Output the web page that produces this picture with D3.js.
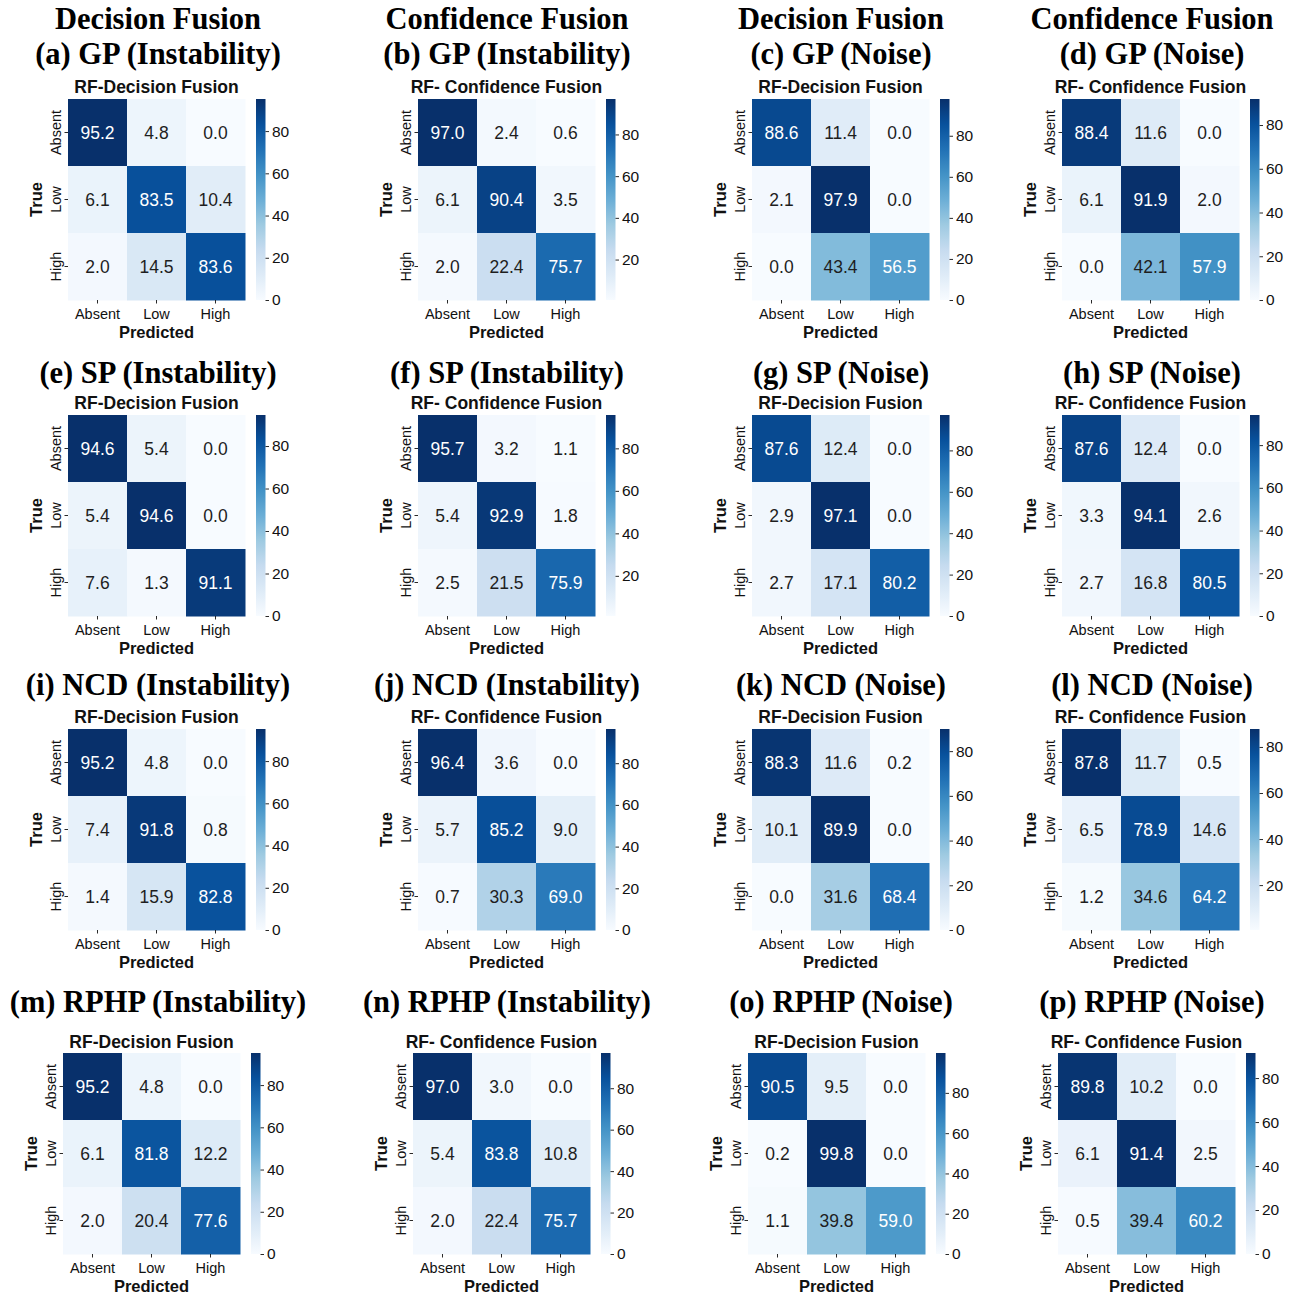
<!DOCTYPE html>
<html>
<head>
<meta charset="utf-8">
<script src="https://cdn.jsdelivr.net/npm/d3@7/dist/d3.min.js"></script>
<style>
  body { margin: 0; background: #fff; }
  svg { display: block; }
</style>
</head>
<body>
<svg id="fig" width="1293" height="1298"></svg>
<script>
// Class labels shared by every confusion matrix (rows = true, columns = predicted)
const classes = ["Absent", "Low", "High"];

// Row-normalised confusion matrices (%), one per panel
const cm_a = [[95.2, 4.8, 0.0], [6.1, 83.5, 10.4], [2.0, 14.5, 83.6]];
const cm_b = [[97.0, 2.4, 0.6], [6.1, 90.4, 3.5], [2.0, 22.4, 75.7]];
const cm_c = [[88.6, 11.4, 0.0], [2.1, 97.9, 0.0], [0.0, 43.4, 56.5]];
const cm_d = [[88.4, 11.6, 0.0], [6.1, 91.9, 2.0], [0.0, 42.1, 57.9]];
const cm_e = [[94.6, 5.4, 0.0], [5.4, 94.6, 0.0], [7.6, 1.3, 91.1]];
const cm_f = [[95.7, 3.2, 1.1], [5.4, 92.9, 1.8], [2.5, 21.5, 75.9]];
const cm_g = [[87.6, 12.4, 0.0], [2.9, 97.1, 0.0], [2.7, 17.1, 80.2]];
const cm_h = [[87.6, 12.4, 0.0], [3.3, 94.1, 2.6], [2.7, 16.8, 80.5]];
const cm_i = [[95.2, 4.8, 0.0], [7.4, 91.8, 0.8], [1.4, 15.9, 82.8]];
const cm_j = [[96.4, 3.6, 0.0], [5.7, 85.2, 9.0], [0.7, 30.3, 69.0]];
const cm_k = [[88.3, 11.6, 0.2], [10.1, 89.9, 0.0], [0.0, 31.6, 68.4]];
const cm_l = [[87.8, 11.7, 0.5], [6.5, 78.9, 14.6], [1.2, 34.6, 64.2]];
const cm_m = [[95.2, 4.8, 0.0], [6.1, 81.8, 12.2], [2.0, 20.4, 77.6]];
const cm_n = [[97.0, 3.0, 0.0], [5.4, 83.8, 10.8], [2.0, 22.4, 75.7]];
const cm_o = [[90.5, 9.5, 0.0], [0.2, 99.8, 0.0], [1.1, 39.8, 59.0]];
const cm_p = [[89.8, 10.2, 0.0], [6.1, 91.4, 2.5], [0.5, 39.4, 60.2]];

const matrices = [cm_a, cm_b, cm_c, cm_d, cm_e, cm_f, cm_g, cm_h,
                  cm_i, cm_j, cm_k, cm_l, cm_m, cm_n, cm_o, cm_p];

// Panel headings
const columnHeads = ["Decision Fusion", "Confidence Fusion", "Decision Fusion", "Confidence Fusion"];
const panelTitles = [
  "(a) GP (Instability)", "(b) GP (Instability)", "(c) GP (Noise)", "(d) GP (Noise)",
  "(e) SP (Instability)", "(f) SP (Instability)", "(g) SP (Noise)", "(h) SP (Noise)",
  "(i) NCD (Instability)", "(j) NCD (Instability)", "(k) NCD (Noise)", "(l) NCD (Noise)",
  "(m) RPHP (Instability)", "(n) RPHP (Instability)", "(o) RPHP (Noise)", "(p) RPHP (Noise)"
];
const subtitles = ["RF-Decision Fusion", "RF- Confidence Fusion", "RF-Decision Fusion", "RF- Confidence Fusion"];
const cbarTickValues = [0, 20, 40, 60, 80, 100];

// ---------- layout ----------
const colLeft = [[68, 418, 752, 1062], [68, 418, 752, 1062], [68, 418, 752, 1062], [63, 413, 748, 1058]];
const rowTop = [99, 415, 729, 1053];
const titleBase = [64, 383, 695, 1012];
const titleCx = [158, 507, 841, 1152];
const mapW = 177, mapH = 201;
const cbGap = 11, cbW = 9.5;

const serif = "'Liberation Serif', 'Times New Roman', serif";
const sans = "'Liberation Sans', Arial, Helvetica, sans-serif";
const inkColor = "#111";

// Matplotlib-style "Blues": piecewise linear through the ColorBrewer stops
const bluesStops = ["#f7fbff", "#deebf7", "#c6dbef", "#9ecae1", "#6baed6", "#4292c6", "#2171b5", "#08519c", "#08306b"];
const blues = d3.scaleLinear()
  .domain(d3.range(9).map(i => i / 8))
  .range(bluesStops)
  .interpolate(d3.interpolateRgb)
  .clamp(true);

function luminance(c) {
  const rgb = d3.rgb(c);
  const lin = v => { v /= 255; return v <= 0.03928 ? v / 12.92 : Math.pow((v + 0.055) / 1.055, 2.4); };
  return 0.2126 * lin(rgb.r) + 0.7152 * lin(rgb.g) + 0.0722 * lin(rgb.b);
}

const svg = d3.select("#fig");
svg.append("rect").attr("width", 1293).attr("height", 1298).attr("fill", "#fff");
const defs = svg.append("defs");

matrices.forEach((m, idx) => {
  const r = Math.floor(idx / 4), c = idx % 4;
  const x0 = colLeft[r][c], y0 = rowTop[r];
  const flat = m.flat();
  const vmin = d3.min(flat), vmax = d3.max(flat);
  const norm = d3.scaleLinear().domain([vmin, vmax]).range([0, 1]);
  const color = v => blues(norm(v));

  const g = svg.append("g").attr("transform", `translate(${x0},${y0})`);

  // headings
  if (r === 0) {
    svg.append("text")
      .attr("x", titleCx[c]).attr("y", 29)
      .attr("text-anchor", "middle")
      .style("font-family", serif).style("font-weight", "bold").style("font-size", "30.5px")
      .attr("fill", "#000").text(columnHeads[c]);
  }
  svg.append("text")
    .attr("x", titleCx[c]).attr("y", titleBase[r])
    .attr("text-anchor", "middle")
    .style("font-family", serif).style("font-weight", "bold").style("font-size", "30.5px")
    .attr("fill", "#000").text(panelTitles[idx]);

  g.append("text")
    .attr("x", mapW / 2).attr("y", r === 3 ? -5 : -6)
    .attr("text-anchor", "middle")
    .style("font-family", sans).style("font-weight", "bold").style("font-size", "17.5px")
    .attr("fill", inkColor).text(subtitles[c]);

  const xs = d3.scaleBand().domain(classes).range([0, mapW]);
  const ys = d3.scaleBand().domain(classes).range([0, mapH]);

  // cells
  const cells = [];
  m.forEach((row, i) => row.forEach((v, j) => cells.push({ t: classes[i], p: classes[j], v })));

  g.selectAll("rect.cell").data(cells).join("rect")
    .attr("class", "cell")
    .attr("x", d => xs(d.p)).attr("y", d => ys(d.t))
    .attr("width", xs.bandwidth() + 0.5).attr("height", ys.bandwidth() + 0.5)
    .attr("fill", d => color(d.v));

  g.selectAll("text.val").data(cells).join("text")
    .attr("class", "val")
    .attr("transform", d => `translate(${xs(d.p) + xs.bandwidth() / 2},${ys(d.t) + ys.bandwidth() / 2}) scale(1,1.08)`)
    .attr("text-anchor", "middle").attr("dominant-baseline", "central")
    .style("font-family", sans).style("font-size", "17.5px")
    .attr("fill", d => luminance(color(d.v)) > 0.408 ? "#1e1e1e" : "#ffffff")
    .text(d => d.v.toFixed(1));

  // axes
  const xAxis = d3.axisBottom(xs).tickSize(3.5).tickPadding(5);
  const gx = g.append("g").attr("transform", `translate(0,${mapH})`).call(xAxis);
  gx.select(".domain").remove();
  gx.selectAll("line").attr("stroke", inkColor).attr("stroke-width", 0.9);
  gx.selectAll("text").style("font-family", sans).style("font-size", "14.5px").attr("fill", inkColor);

  const yAxis = d3.axisLeft(ys).tickSize(3.5).tickPadding(4);
  const gy = g.append("g").call(yAxis);
  gy.select(".domain").remove();
  gy.selectAll("line").attr("stroke", inkColor).attr("stroke-width", 0.9);
  gy.selectAll("text")
    .style("font-family", sans).style("font-size", "14.5px").attr("fill", inkColor)
    .attr("x", null).attr("dy", null)
    .attr("text-anchor", "middle")
    .attr("transform", "translate(-7.5,0) rotate(-90)")
    .attr("y", 0);

  g.append("text")
    .attr("x", mapW / 2).attr("y", mapH + 37.5)
    .attr("text-anchor", "middle")
    .style("font-family", sans).style("font-weight", "bold").style("font-size", "16.5px")
    .attr("fill", inkColor).text("Predicted");

  g.append("text")
    .attr("transform", `translate(-26.5,${mapH / 2}) rotate(-90)`)
    .attr("text-anchor", "middle")
    .style("font-family", sans).style("font-weight", "bold").style("font-size", "16.5px")
    .attr("fill", inkColor).text("True");

  // colour bar
  const gradId = `cbar-${idx}`;
  const grad = defs.append("linearGradient").attr("id", gradId)
    .attr("x1", 0).attr("y1", 1).attr("x2", 0).attr("y2", 0);
  d3.range(0, 1.0001, 1 / 32).forEach(t => {
    grad.append("stop").attr("offset", t).attr("stop-color", blues(t));
  });
  const cbx = mapW + cbGap;
  g.append("rect")
    .attr("x", cbx).attr("y", 0).attr("width", cbW).attr("height", mapH)
    .attr("fill", `url(#${gradId})`);
  const cs = d3.scaleLinear().domain([vmin, vmax]).range([mapH, 0]);
  const cAxis = d3.axisRight(cs)
    .tickValues(cbarTickValues.filter(v => v >= vmin && v <= vmax))
    .tickFormat(d3.format("d")).tickSize(3.5).tickPadding(3);
  const gc = g.append("g").attr("transform", `translate(${cbx + cbW},0)`).call(cAxis);
  gc.select(".domain").remove();
  gc.selectAll("line").attr("stroke", inkColor).attr("stroke-width", 0.9);
  gc.selectAll("text").style("font-family", sans).style("font-size", "15.5px").attr("fill", inkColor);
});
</script>
</body>
</html>
